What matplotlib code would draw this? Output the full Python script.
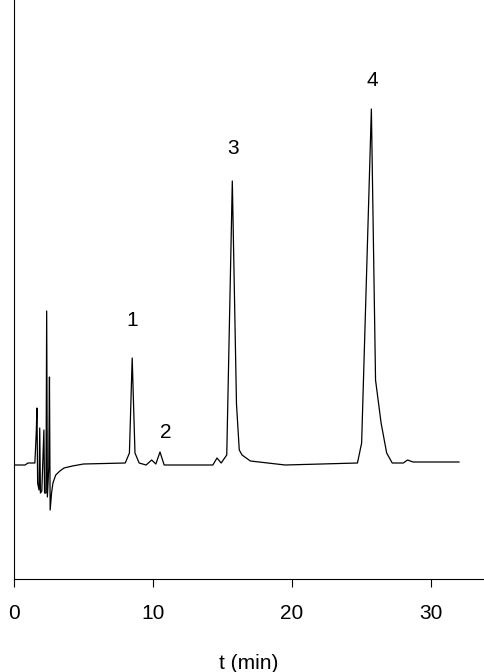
import matplotlib.pyplot as plt

# chromatogram trace (time in min, signal in arbitrary units)
t = [0, 0.8, 1.0, 1.5, 1.6, 1.65, 1.7, 1.8, 1.85, 1.9, 2.0, 2.15, 2.2, 2.3, 2.35, 2.4,
     2.5, 2.55, 2.6, 2.7, 2.8, 3.0, 3.3, 3.6, 4.2, 5.0, 8.0, 8.3, 8.5, 8.7, 9.0, 9.5,
     9.9, 10.2, 10.5, 10.8, 14.3, 14.6, 14.9, 15.3, 15.7, 16.0, 16.2, 16.4, 17.0, 19.5,
     24.7, 25.0, 25.7, 26.0, 26.4, 26.8, 27.2, 28.0, 28.3, 28.7, 32.0]
signal = [-2, -2, 0, 0, 30, 55, -20, -27, 35, -30, -28, 33, -30, -30, 152, -34,
          -5, 86, -47, -30, -20, -12, -8, -5, -3, -1, 0, 10, 105, 10, 0, -2,
          3, -1, 11, -2, -2, 5, 0, 8, 282, 59, 13, 8, 2, -2,
          0, 20, 354, 83, 40, 10, 0, 0, 3, 1, 1]

peak_labels = ['1', '2', '3', '4']
label_t = [8.5, 10.9, 15.75, 25.75]
label_v = [143, 31, 315, 383]

fig = plt.figure(figsize=(4.84, 6.72), dpi=100)
ax = fig.add_axes([14 / 484, 93 / 672, 1 - 14 / 484, 1 - 93 / 672])
ax.plot(t, signal, color='black', linewidth=0.9)
for lab, x, y in zip(peak_labels, label_t, label_v):
    ax.text(x, y, lab, ha='center', va='center', fontsize=15, family='Liberation Sans')

ax.set_xlim(0, 33.8)
ax.set_ylim(-116, 463)
ax.spines['top'].set_visible(False)
ax.spines['right'].set_visible(False)
ax.set_yticks([])
ax.set_xticks([0, 10, 20, 30])
ax.tick_params(axis='x', length=6, pad=12, labelsize=15)
for lbl in ax.get_xticklabels():
    lbl.set_family('Liberation Sans')
ax.set_xlabel('t (min)', fontsize=15, family='Liberation Sans', labelpad=22)
fig.savefig('out.png', dpi=100)
